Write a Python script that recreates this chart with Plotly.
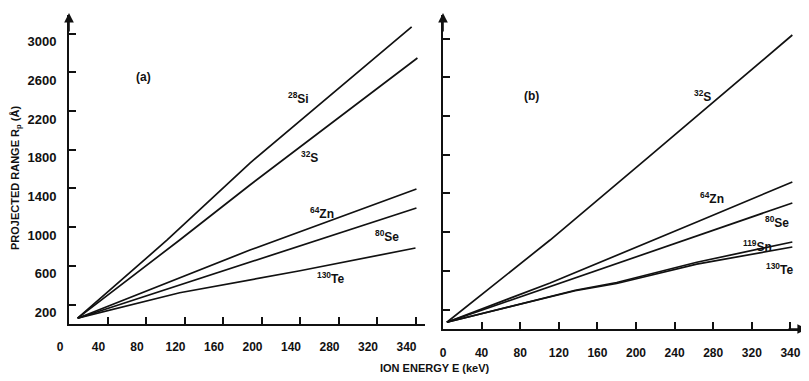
import plotly.graph_objects as go

# ---------------- data ----------------
# Panel (a)
E_a_Si = [9, 102, 188, 356]
Rp_a_Si = [60, 868, 1663, 3070]
E_a_S = [9, 115, 188, 362]
Rp_a_S = [60, 868, 1436, 2748]
E_a_Zn = [9, 188, 361]
Rp_a_Zn = [60, 764, 1395]
E_a_Se = [9, 188, 361]
Rp_a_Se = [60, 640, 1198]
E_a_Te = [9, 115, 240, 360]
Rp_a_Te = [60, 323, 550, 785]

# Panel (b)
E_b_S = [4, 111, 212, 362]
Rp_b_S = [70, 919, 1767, 3037]
E_b_Zn = [4, 111, 263, 362]
Rp_b_Zn = [70, 475, 1105, 1519]
E_b_Se = [4, 121, 263, 362]
Rp_b_Se = [70, 475, 961, 1302]
E_b_Sn = [4, 137, 180, 263, 362]
Rp_b_Sn = [70, 400, 480, 690, 899]
E_b_Te = [4, 137, 180, 263, 362]
Rp_b_Te = [70, 395, 470, 670, 847]

x_tickvals = [0, 40, 80, 120, 160, 200, 240, 280, 320, 360]
x_ticktext_a = ["0", "40", "80", "120", "160", "200", "140", "280", "320", "340"]
x_ticktext_b = ["0", "40", "80", "120", "160", "200", "240", "280", "320", "340"]
y_tickvals = [200, 600, 1000, 1400, 1800, 2200, 2600, 3000]
y_ticktext = ["200", "600", "1000", "1400", "1800", "2200", "2600", "3000"]

# ---------------- figure ----------------
# page body has an 8px margin, so the figure is drawn 8px smaller and
# all screen-pixel positions below are converted with that offset
OFF = 8
W, H = 809 - OFF, 381 - OFF
FONT = "Liberation Sans"
LW = 1.7

fig = go.Figure()

def add_line(x, y, xa, ya, name):
    fig.add_trace(go.Scatter(x=x, y=y, mode="lines", xaxis=xa, yaxis=ya, name=name,
                             line=dict(color="#111111", width=LW), hoverinfo="skip",
                             showlegend=False))

add_line(E_a_Si, Rp_a_Si, "x", "y", "28Si")
add_line(E_a_S, Rp_a_S, "x", "y", "32S")
add_line(E_a_Zn, Rp_a_Zn, "x", "y", "64Zn")
add_line(E_a_Se, Rp_a_Se, "x", "y", "80Se")
add_line(E_a_Te, Rp_a_Te, "x", "y", "130Te")

add_line(E_b_S, Rp_b_S, "x2", "y2", "32S")
add_line(E_b_Zn, Rp_b_Zn, "x2", "y2", "64Zn")
add_line(E_b_Se, Rp_b_Se, "x2", "y2", "80Se")
add_line(E_b_Sn, Rp_b_Sn, "x2", "y2", "119Sn")
add_line(E_b_Te, Rp_b_Te, "x2", "y2", "130Te")

def px_x(p):
    return (p - OFF) / W

def px_y(p):
    return 1 - (p - OFF) / H

tickfont = dict(family=FONT, size=12, color="#111111", weight="bold")
ytickfont = dict(family=FONT, size=13, color="#111111", weight="bold")
axis_common = dict(showgrid=False, zeroline=False, showline=True, linecolor="#111111",
                   linewidth=1.8, ticks="inside", ticklen=7, tickwidth=1.5,
                   tickcolor="#111111", fixedrange=True, automargin=False)

# panel (a) pixels: x 0 at 69, 0.9625 px/keV ; y 0 at 324, 0.0968 px/unit
fig.update_layout(
    width=W, height=H,
    margin=dict(l=0, r=0, t=0, b=0, autoexpand=False),
    paper_bgcolor="white", plot_bgcolor="white",
    xaxis=dict(domain=[px_x(69), px_x(425)], range=[0, (425 - 69) / 0.9625],
               anchor="y", tickmode="array", tickvals=x_tickvals, ticktext=x_ticktext_a,
               tickfont=tickfont, ticklabelstandoff=11, ticklabelshift=-9, **axis_common),
    yaxis=dict(domain=[px_y(324), px_y(15)], range=[0, (324 - 15) / 0.0968],
               anchor="x", tickmode="array", tickvals=y_tickvals, ticktext=y_ticktext,
               tickfont=ytickfont, ticklabelstandoff=8, ticklabelshift=8, **axis_common),
    xaxis2=dict(domain=[px_x(443), px_x(805)], range=[0, (805 - 443) / 0.965],
                anchor="y2", tickmode="array", tickvals=x_tickvals, ticktext=x_ticktext_b,
                tickfont=tickfont, ticklabelstandoff=12, **axis_common),
    yaxis2=dict(domain=[px_y(329), px_y(15)], range=[0, (329 - 15) / 0.0968],
                anchor="x2", tickmode="array", tickvals=y_tickvals,
                showticklabels=False, **axis_common),
)

ann_font = dict(family=FONT, size=12, color="#111111", weight="bold")
labels = [
    (143, 77, "(a)"),
    (531, 96, "(b)"),
    (298, 98, "<sup>28</sup>Si"),
    (309, 157, "<sup>32</sup>S"),
    (322, 213, "<sup>64</sup>Zn"),
    (387, 236, "<sup>80</sup>Se"),
    (330, 278, "<sup>130</sup>Te"),
    (702, 96, "<sup>32</sup>S"),
    (712, 198, "<sup>64</sup>Zn"),
    (777, 222, "<sup>80</sup>Se"),
    (757, 246, "<sup>119</sup>Sn"),
    (779, 269, "<sup>130</sup>Te"),
]
for x, y, t in labels:
    fig.add_annotation(x=px_x(x), y=px_y(y), xref="paper", yref="paper", text=t,
                       showarrow=False, font=ann_font, xanchor="center", yanchor="middle")

# axis titles
fig.add_annotation(x=px_x(435), y=px_y(368), xref="paper", yref="paper",
                   text="ION ENERGY E (keV)", showarrow=False,
                   font=dict(family=FONT, size=11, color="#111111", weight="bold"),
                   xanchor="center", yanchor="middle")
fig.add_annotation(x=px_x(16), y=px_y(178), xref="paper", yref="paper",
                   text="PROJECTED RANGE R<sub>p</sub> (Å)", showarrow=False, textangle=-90,
                   font=dict(family=FONT, size=11, color="#111111", weight="bold"),
                   xanchor="center", yanchor="middle")

# axis arrows
for (x, y, ax, ay) in [(69, 13, 0, 20), (443, 13, 0, 20), (807, 329, -20, 0)]:
    fig.add_annotation(x=px_x(x), y=px_y(y), xref="paper", yref="paper", text="",
                       showarrow=True, arrowhead=2, arrowsize=1.2, arrowwidth=1.6,
                       arrowcolor="#111111", ax=ax, ay=ay)

fig.write_html("out.html")
